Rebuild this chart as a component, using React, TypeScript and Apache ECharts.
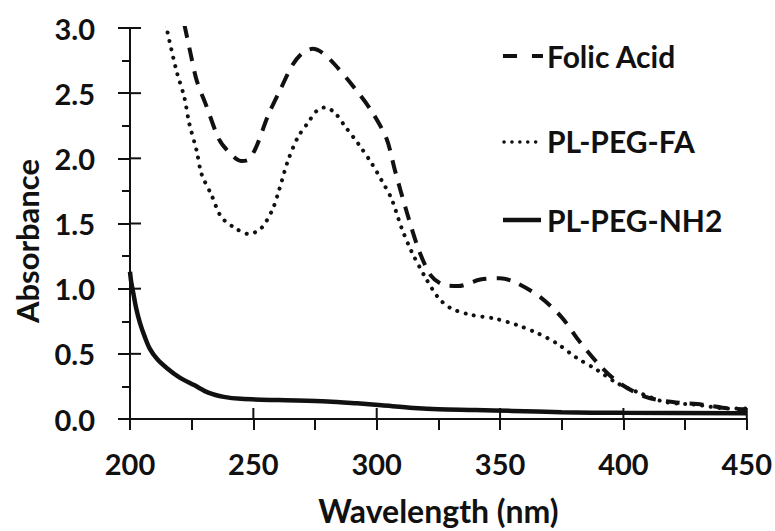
import React, { useEffect, useRef } from "react";
import * as echarts from "echarts";

const xTicks = [200, 250, 300, 350, 400, 450];
const yTicks = [0, 0.5, 1.0, 1.5, 2.0, 2.5, 3.0];

const seriesNames = ["Folic Acid", "PL-PEG-FA", "PL-PEG-NH2"];

const folicAcid: [number, number][] = [
  [222, 3.03], [224.6, 2.8], [227, 2.6], [231, 2.4], [236, 2.15], [240, 2.05],
  [245, 1.98], [248, 1.99], [251, 2.08], [256, 2.33], [261, 2.53], [266, 2.72],
  [270, 2.81], [274, 2.84], [278, 2.81], [283, 2.72], [291, 2.54], [298, 2.36],
  [304, 2.15], [307.5, 1.9], [312, 1.6], [317, 1.3], [322, 1.1], [327, 1.03],
  [333, 1.02], [342, 1.07], [350, 1.08], [356, 1.05], [366, 0.94], [375, 0.78],
  [382, 0.6], [390, 0.42], [398, 0.28], [409, 0.17], [420, 0.13], [432, 0.11],
  [443, 0.08], [450, 0.075],
];

const plPegFa: [number, number][] = [
  [214.5, 3.03], [216, 2.9], [219, 2.66], [222, 2.47], [224, 2.27], [227, 2.06],
  [229, 1.88], [233, 1.72], [237, 1.55], [243, 1.46], [248, 1.42], [253, 1.46],
  [257.6, 1.6], [260, 1.73], [264, 1.98], [268, 2.16], [272, 2.27], [276, 2.37],
  [279, 2.39], [283, 2.35], [287, 2.25], [292.6, 2.11], [298, 1.96], [302, 1.83],
  [306, 1.69], [310, 1.47], [314, 1.29], [319.6, 1.09], [325, 0.93], [330, 0.85],
  [338, 0.8], [348, 0.77], [357, 0.72], [365, 0.66], [373, 0.58], [381, 0.47],
  [389, 0.38], [397, 0.28], [406.5, 0.2], [417, 0.13], [429, 0.11], [443, 0.08],
  [450, 0.08],
];

const plPegNh2: [number, number][] = [
  [200, 1.13], [200.5, 1.05], [201.5, 0.95], [202.5, 0.85], [204, 0.74],
  [206, 0.63], [208, 0.54], [211, 0.46], [215, 0.39], [220, 0.32], [226, 0.26],
  [232, 0.2], [238, 0.17], [245, 0.155], [260, 0.145], [280, 0.135], [292, 0.12],
  [302, 0.105], [315, 0.085], [325, 0.075], [340, 0.07], [355, 0.062],
  [375, 0.052], [400, 0.047], [450, 0.045],
];

const FONT = "Lato, 'Open Sans', sans-serif";
const INK = "#111";

export default function App() {
  const ref = useRef<HTMLDivElement>(null);
  useEffect(() => {
    if (!ref.current) return;
    const chart = echarts.init(ref.current, undefined, { renderer: "svg" });
    const axisLine = { show: true, onZero: false, lineStyle: { color: INK, width: 2 } };
    const tickStyle = { color: INK, width: 2 };
    const legendGraphics: any[] = [
      {
        type: "text",
        x: 27,
        y: 241,
        rotation: Math.PI / 2,
        style: {
          text: "Absorbance",
          font: `bold 31px ${FONT}`,
          fill: INK,
          align: "center",
          verticalAlign: "middle",
        },
      },
      { type: "line", shape: { x1: 503, y1: 56, x2: 517, y2: 56 }, style: { stroke: INK, lineWidth: 4 } },
      { type: "line", shape: { x1: 532, y1: 56, x2: 543, y2: 56 }, style: { stroke: INK, lineWidth: 4 } },
      {
        type: "text",
        x: 547,
        y: 56,
        style: { text: seriesNames[0], font: `bold 30px ${FONT}`, fill: INK, verticalAlign: "middle", align: "left" },
      },
      {
        type: "line",
        shape: { x1: 504, y1: 142, x2: 537, y2: 142 },
        style: { stroke: INK, lineWidth: 3.5, lineDash: [0.1, 7.8], lineCap: "round" },
      },
      {
        type: "text",
        x: 547,
        y: 141,
        style: { text: seriesNames[1], font: `bold 30px ${FONT}`, fill: INK, verticalAlign: "middle", align: "left" },
      },
      { type: "line", shape: { x1: 503, y1: 220, x2: 541, y2: 220 }, style: { stroke: INK, lineWidth: 4.5 } },
      {
        type: "text",
        x: 547,
        y: 220,
        style: { text: seriesNames[2], font: `bold 30px ${FONT}`, fill: INK, verticalAlign: "middle", align: "left" },
      },
    ];
    chart.setOption({
      animation: false,
      backgroundColor: "#fff",
      grid: { left: 130, right: 24, top: 28, bottom: 112, containLabel: false },
      xAxis: {
        type: "value",
        min: 200,
        max: 450,
        interval: 50,
        position: "bottom",
        name: "Wavelength (nm)",
        nameLocation: "middle",
        nameGap: 75,
        nameTextStyle: { fontFamily: FONT, fontSize: 32, fontWeight: "bold", color: INK },
        axisLine,
        axisTick: { show: true, inside: false, length: 11, lineStyle: tickStyle },
        minorTick: { show: true, splitNumber: 2, length: 11, lineStyle: tickStyle },
        axisLabel: {
          margin: 30,
          fontFamily: FONT,
          fontSize: 29,
          fontWeight: "bold",
          color: INK,
          formatter: (v: number) => (xTicks.includes(v) ? String(v) : ""),
        },
        splitLine: { show: false },
      },
      yAxis: {
        type: "value",
        min: 0,
        max: 3,
        interval: 0.5,
        position: "left",
        axisLine,
        axisTick: { show: true, inside: false, length: 12, lineStyle: tickStyle },
        minorTick: { show: true, splitNumber: 2, length: 8, lineStyle: tickStyle },
        axisLabel: {
          margin: 35,
          fontFamily: FONT,
          fontSize: 29,
          fontWeight: "bold",
          color: INK,
          formatter: (v: number) => (yTicks.some((t) => Math.abs(t - v) < 1e-9) ? v.toFixed(1) : ""),
        },
        splitLine: { show: false },
      },
      series: [
        {
          name: seriesNames[0],
          type: "line",
          data: folicAcid,
          smooth: 0.3,
          showSymbol: false,
          clip: true,
          lineStyle: { color: INK, width: 4, type: [14, 10], cap: "butt" },
        },
        {
          name: seriesNames[1],
          type: "line",
          data: plPegFa,
          smooth: 0.3,
          showSymbol: false,
          clip: true,
          lineStyle: { color: INK, width: 4, type: [0.1, 8.5], cap: "round" },
        },
        {
          name: seriesNames[2],
          type: "line",
          data: plPegNh2,
          smooth: 0.3,
          showSymbol: false,
          clip: true,
          lineStyle: { color: INK, width: 4.5, type: "solid" },
        },
      ],
      graphic: legendGraphics,
    });
    // inward halves of the major ticks, placed through the chart's own scales
    const tickMarks: any[] = [];
    xTicks.forEach((v) => {
      const c = chart.convertToPixel({ gridIndex: 0 }, [v, 0]) as number[];
      tickMarks.push({
        type: "line",
        shape: { x1: c[0], y1: c[1], x2: c[0], y2: c[1] - 11 },
        style: { stroke: INK, lineWidth: 2 },
      });
    });
    yTicks.forEach((v) => {
      const c = chart.convertToPixel({ gridIndex: 0 }, [200, v]) as number[];
      tickMarks.push({
        type: "line",
        shape: { x1: c[0], y1: c[1], x2: c[0] + 11, y2: c[1] },
        style: { stroke: INK, lineWidth: 2 },
      });
    });
    chart.setOption({ graphic: [...legendGraphics, ...tickMarks] }, { replaceMerge: ["graphic"] });
    return () => chart.dispose();
  }, []);
  return (
    <div
      ref={ref}
      style={{ position: "absolute", left: 0, top: 0, width: 775, height: 531, background: "#fff" }}
    />
  );
}
